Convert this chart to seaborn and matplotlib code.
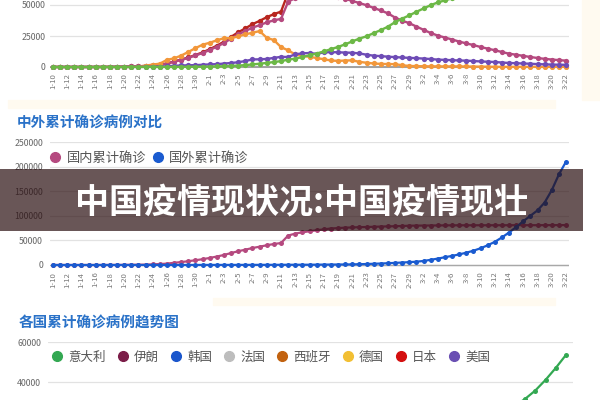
import numpy as np
import pandas as pd
import seaborn as sns
import matplotlib.pyplot as plt
from matplotlib.lines import Line2D
from matplotlib.patches import Rectangle

sns.set_theme(style="white")
plt.rcParams['font.family'] = ['Noto Sans CJK SC', 'DejaVu Sans']

# daily dates shown on the x axis (1-10 .. 3-22)
dates = pd.date_range("2020-01-10", "2020-03-22")
day_labels = [f"{d.month}-{d.day}" for d in dates]

# top chart: China daily figures
confirmed = [41, 41, 41, 41, 41, 41, 45, 62, 121, 198,
             291, 440, 571, 830, 1287, 1975, 2744, 4515, 5974, 7711, 9692, 11791,
             14380, 17205, 20438, 24324, 28018, 31161, 34546, 37198, 40171, 42638,
             44653, 59804, 63851, 66492, 68500, 70548, 72436, 74185, 75002, 75891,
             76288, 76936, 77150, 77658, 78064, 78497, 78824, 79251, 79824,
             80026, 80151, 80270, 80409, 80552, 80651, 80695, 80735, 80754, 80778,
             80793, 80813, 80824, 80844, 80860, 80881, 80894, 80928, 80967, 81008, 81054, 81093]
existing = [40, 40, 40, 40, 40, 40, 43, 60, 115, 190,
            260, 405, 526, 771, 1208, 1870, 2613, 4349, 5739, 7417, 9308, 11289,
            13748, 16369, 19381, 22942, 26302, 28985, 31774, 33738, 35982, 37626,
            38800, 52526, 55748, 56873, 57416, 57934, 58016, 57805, 56303, 54965,
            53284, 51606, 49824, 47672, 45604, 43258, 39919, 37414, 35329,
            32652, 30004, 27433, 25352, 23784, 22177, 20533, 19016, 17721, 16145,
            14831, 13526, 12094, 10734, 9898, 8976, 8056, 7263, 6569, 6013, 5549, 5120]
suspected = [0, 0, 0, 0, 0, 0, 0, 0, 0, 0,
             54, 37, 393, 1072, 1965, 2684, 5794, 6973, 9239, 12167, 15238, 17988,
             19544, 21558, 23214, 23260, 24702, 26359, 27657, 28942, 23589, 21675,
             16067, 13435, 10109, 8969, 8228, 7264, 6242, 5248, 4922, 5206,
             5365, 4148, 3434, 2824, 2491, 2358, 2308, 1418, 851,
             715, 587, 520, 522, 482, 502, 458, 421, 349, 285,
             253, 147, 115, 113, 134, 128, 119, 105, 104, 106, 118, 137]
cured = [2, 2, 2, 3, 6, 12, 12, 19, 24, 25,
         25, 25, 28, 34, 38, 49, 51, 60, 103, 124, 171, 243,
         328, 475, 632, 892, 1153, 1540, 2050, 2649, 3281, 3996,
         4740, 5911, 6723, 8096, 9419, 10844, 12552, 14376, 16155, 18264,
         20659, 22888, 24734, 27323, 29745, 32495, 36117, 39002, 41625,
         44462, 47204, 49856, 52045, 53726, 55404, 57065, 58600, 59897, 61475,
         62793, 64111, 65541, 66911, 67749, 68679, 69601, 70420, 71150, 71740, 72244, 72703]
severe = [0, 0, 0, 0, 0, 0, 0, 0, 0, 0,
          35, 102, 95, 177, 237, 324, 461, 976, 1239, 1370, 1527, 1795,
          2110, 2296, 2788, 3219, 3859, 4821, 6101, 6188, 6484, 7333,
          8204, 8030, 10204, 11053, 11272, 10644, 11741, 11977, 11864, 11633,
          11477, 10968, 9915, 9126, 8752, 8346, 7952, 7664, 7365,
          7110, 6806, 6416, 5952, 5737, 5489, 5264, 5111, 4794, 4492,
          4257, 4020, 3610, 3226, 3032, 2830, 2622, 2314, 2136, 1963, 1845, 1749]

# middle chart: China vs. rest of world (cumulative)
domestic = confirmed
foreign = [0, 0, 0, 0, 0, 0, 0, 0, 0, 0,
           4, 6, 9, 13, 20, 30, 40, 50, 60, 80, 100, 130,
           140, 150, 160, 180, 200, 230, 270, 290, 310, 320,
           400, 440, 500, 520, 550, 680, 800, 880, 1000, 1100,
           1300, 1600, 2000, 2500, 3000, 3600, 4300, 5000, 5800,
           6700, 8200, 10500, 13000, 15800, 18500, 21500, 25000, 29000, 34000,
           40000, 47000, 56000, 66000, 77000, 89000, 100000, 111000, 127000, 152000, 184000, 210000]

# bottom chart: by country, 2-1 .. 3-22 (others only the last days, all below the visible area)
country_dates = pd.date_range("2020-02-01", "2020-03-22")
italy = [2, 2, 2, 2, 2, 2, 3, 3, 3, 3, 3, 3, 3, 3, 3, 3, 3, 3, 3, 3,
         3, 17, 79, 157, 229, 322, 400, 650, 888,
         1128, 1694, 2036, 2502, 3089, 3858, 4636, 5883, 7375, 9172,
         10149, 12462, 15113, 17660, 21157, 24747, 27980, 31506, 35713, 41035, 47021, 53578]
iran = [12729, 13938, 14991, 16169, 17361, 18407, 19644, 20610]
korea = [8086, 8162, 8236, 8320, 8413, 8565, 8652, 8799]
france = [4499, 5423, 6633, 7730, 9134, 10995, 12612, 14459]
spain = [6391, 7798, 9942, 11748, 13910, 17963, 20410, 25374]
germany = [4585, 5795, 7272, 9257, 12327, 15320, 19848, 22213]
japan = [773, 839, 825, 878, 889, 924, 963, 1007]
usa = [2727, 3499, 4632, 6421, 7786, 13680, 19101, 25489]
countries = ["意大利", "伊朗", "韩国", "法国", "西班牙", "德国", "日本", "美国"]
country_colors = ["#33a852", "#7b1d48", "#1a56cc", "#bdbdbd", "#c2620f", "#f2bf33", "#d40f0f", "#6a4fb3"]

top_names = ["累计确诊", "现有确诊", "现有疑似", "现有重症", "累计治愈"]
top_colors = ["#b8261f", "#b5497f", "#f2973a", "#6e4cb6", "#6cb846"]

W, H = 600, 400
fig = plt.figure(figsize=(6, 4), dpi=100)
fig.patch.set_facecolor("white")

def add_ax(left, right, lo_px, hi_px):
    # pixel rows measured from top of the picture
    return fig.add_axes([left / W, 1 - lo_px / H, (right - left) / W, (lo_px - hi_px) / H])

def style(ax, yticks, ylabels, xticks=None, xlabels=None):
    for s in ax.spines.values():
        s.set_visible(False)
    ax.set_yticks(yticks)
    ax.set_yticklabels(ylabels)
    ax.yaxis.grid(True, color="#e2e2e2", lw=0.9)
    ax.set_axisbelow(True)
    ax.tick_params(length=0, labelsize=6.3, labelcolor="#666666", pad=3)
    if xticks is not None:
        ax.set_xticks(xticks)
        ax.set_xticklabels(xlabels, rotation=90, fontsize=5.6, color="#777777")
    else:
        ax.set_xticks([])
    ax.set_xlabel("")
    ax.set_ylabel("")

n = len(dates)
pos = list(range(n))
xlim = (-0.42, n - 1 + 0.42)

# ---- top chart
ax1 = add_ax(50, 569, 67 + 1500 * 31 / 25000, 67 - 75000 * 31 / 25000)
top_df = pd.DataFrame({"day": pos, "累计确诊": confirmed, "现有确诊": existing,
                       "现有疑似": suspected, "现有重症": severe, "累计治愈": cured})
top_long = top_df.melt(id_vars="day", var_name="series", value_name="count")
ax1.axhline(0, color="#9a9a9a", lw=1.3, zorder=1)
sns.lineplot(data=top_long, x="day", y="count", hue="series", hue_order=top_names,
             palette=top_colors, marker="o", markersize=3.8, markeredgewidth=0,
             linewidth=1.7, estimator=None, legend=False, ax=ax1)
ax1.set_xlim(*xlim)
ax1.set_ylim(-1500, 75000)
style(ax1, [0, 25000, 50000, 75000], ["0", "25000", "50000", ""], pos[::2], day_labels[::2])

# ---- middle chart
ax2 = add_ax(50, 569, 265 + 5000 * 123 / 250000, 142)
mid_df = pd.DataFrame({"day": pos, "国内累计确诊": domestic, "国外累计确诊": foreign})
mid_long = mid_df.melt(id_vars="day", var_name="series", value_name="count")
ax2.axhline(0, color="#a8a8a8", lw=1.0, zorder=1)
sns.lineplot(data=mid_long, x="day", y="count", hue="series",
             palette=["#b5497f", "#1a5bd0"], marker="o", markersize=3.6, markeredgewidth=0,
             linewidth=1.6, estimator=None, legend=False, ax=ax2)
ax2.set_xlim(*xlim)
ax2.set_ylim(-5000, 250000)
mid_ticks = [0, 50000, 100000, 150000, 200000, 250000]
style(ax2, mid_ticks, [str(v) for v in mid_ticks], pos[::2], day_labels[::2])
ax2.tick_params(axis="y", pad=5)
mid_handles = [Line2D([], [], marker="o", ls="", color=c, markersize=7)
               for c in ["#b5497f", "#1a5bd0"]]
fig.legend(mid_handles, ["国内累计确诊", "国外累计确诊"], loc="center left",
           bbox_to_anchor=(50 / W, 1 - 158 / H), ncol=2, frameon=False, fontsize=9.5,
           handlelength=0.8, handletextpad=0.45, columnspacing=0.5, borderpad=0,
           borderaxespad=0, labelcolor="#555555")

# ---- bottom chart
ax3 = add_ax(48, 573, 342 + 120, 342)
m = len(country_dates)
rows = []
for i, v in enumerate(italy):
    rows.append((i, "意大利", v))
for name, vals in zip(countries[1:], [iran, korea, france, spain, germany, japan, usa]):
    for k, v in enumerate(vals):
        rows.append((m - len(vals) + k, name, v))
bot_long = pd.DataFrame(rows, columns=["day", "country", "count"])
sns.lineplot(data=bot_long, x="day", y="count", hue="country", hue_order=countries,
             palette=country_colors, marker="o", markersize=3.6, markeredgewidth=0,
             linewidth=1.6, estimator=None, legend=False, ax=ax3)
ax3.set_xlim(-0.49, m - 1 + 0.68)
ax3.set_ylim(0, 60000)
style(ax3, [0, 20000, 40000, 60000], ["", "", "40000", "60000"])
ax3.tick_params(axis="y", pad=5)
bot_handles = [Line2D([], [], marker="o", ls="", color=c, markersize=7) for c in country_colors]
fig.legend(bot_handles, countries, loc="center left", bbox_to_anchor=(52 / W, 1 - 357 / H),
           ncol=8, frameon=False, fontsize=9, handlelength=0.8, handletextpad=0.5,
           columnspacing=0.95, borderpad=0, borderaxespad=0, labelcolor="#555555")

# titles
fig.text(17 / W, 1 - 123 / H, "中外累计确诊病例对比", fontsize=10.5, fontweight="bold",
         color="#2a72c8", va="center", ha="left")
fig.text(19 / W, 1 - 323 / H, "各国累计确诊病例趋势图", fontsize=10.5, fontweight="bold",
         color="#2a72c8", va="center", ha="left")

# faint cream strips of the screenshot
for x0, y0, w, h in [(8, 100, 547, 8), (213, 298, 342, 7), (582, 0, 18, 100)]:
    fig.patches.append(Rectangle((x0 / W, 1 - (y0 + h) / H), w / W, h / H,
                                 transform=fig.transFigure, color="#fffaf0", zorder=0))

# overlay banner
fig.patches.append(Rectangle((0, 1 - 231 / H), 583 / W, 62 / H, transform=fig.transFigure,
                             facecolor=(0.166, 0.053, 0.064), alpha=0.7, lw=0, zorder=10))
fig.text(75 / W, 1 - 202 / H, "中国疫情现状况:中国疫情现壮", fontsize=24.5, fontweight="bold",
         color="white", va="center", ha="left", zorder=11)

fig.savefig("out.png", dpi=100)
